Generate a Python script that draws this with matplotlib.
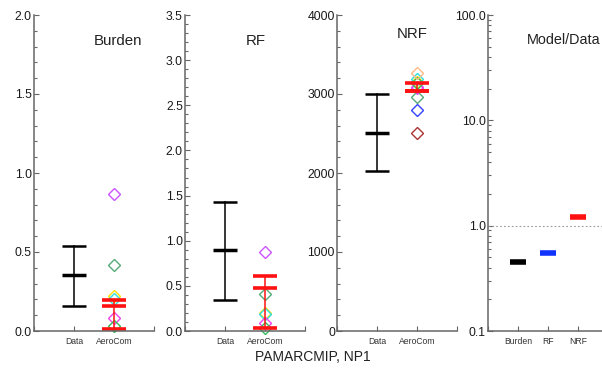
import numpy as np
import matplotlib
matplotlib.use('Agg')
import matplotlib.pyplot as plt
from matplotlib.ticker import FixedLocator, MultipleLocator, LogLocator, NullFormatter

plt.rcParams['font.family'] = ['Liberation Sans', 'DejaVu Sans']

# panel names and y ranges
panels = ['Burden', 'RF', 'NRF']
ymax = [2.0, 3.5, 4000]
ymajor = [0.5, 0.5, 1000]
yminor = [0.1, 0.1, 200]

# observations: high, mean, low
data_hi = [0.535, 1.43, 3005]
data_mean = [0.352, 0.897, 2505]
data_lo = [0.158, 0.34, 2020]

# AeroCom ensemble: high, mean, low
aero_hi = [0.195, 0.61, 3135]
aero_mean = [0.158, 0.48, 3040]
aero_lo = [0.013, 0.037, 3040]

# individual models (burden, rf, nrf)
model_colors = ['#cc55ff', '#55aa77', '#ffe000', '#33dddd', '#ee44ee', '#33bb55',
                '#ffbb88', '#3344ff', '#aa3333']
model_burden = [0.87, 0.42, 0.22, 0.20, 0.08, 0.03, np.nan, np.nan, np.nan]
model_rf = [0.875, 0.41, 0.20, 0.19, 0.085, 0.03, np.nan, np.nan, np.nan]
model_nrf = [3075, 2965, 3150, 3185, 3090, 3140, 3270, 2800, 2510]
models = [model_burden, model_rf, model_nrf]

# model / data ratios
ratio_names = ['Burden', 'RF', 'NRF']
ratio_vals = [0.455, 0.547, 1.22]
ratio_colors = ['black', '#1133ff', '#ff1111']

W, H = 602, 371
fig = plt.figure(figsize=(W / 100, H / 100), dpi=100)
axcol = '#666666'


def make_ax(x0):
    ax = fig.add_axes([x0 / W, (H - 331) / H, 120 / W, 316 / H])
    ax.spines['top'].set_visible(False)
    ax.spines['right'].set_visible(False)
    for s in ['left', 'bottom']:
        ax.spines[s].set_color(axcol)
        ax.spines[s].set_linewidth(1.1)
    ax.tick_params(which='both', direction='in', color=axcol, width=0.8)
    ax.tick_params(which='major', length=3.5)
    ax.tick_params(which='minor', length=1.8)
    ax.tick_params(axis='y', labelsize=8.8, pad=1.5, labelcolor='#1a1a1a')
    ax.tick_params(axis='x', labelsize=6.2, pad=4, labelcolor='#333333')
    return ax


lefts = [34, 185, 337]
title_pos = [(0.70, 0.918), (0.59, 0.918), (0.625, 0.94)]
for i in range(3):
    ax = make_ax(lefts[i])
    ax.set_xlim(0, 3)
    ax.set_ylim(0, ymax[i])
    ax.xaxis.set_major_locator(FixedLocator([0, 1, 2, 3]))
    ax.set_xticklabels(['', 'Data', 'AeroCom', ''])
    ax.yaxis.set_major_locator(MultipleLocator(ymajor[i]))
    ax.yaxis.set_minor_locator(MultipleLocator(yminor[i]))
    if i < 2:
        ax.yaxis.set_major_formatter(plt.FormatStrFormatter('%.1f'))
    else:
        ax.yaxis.set_major_formatter(plt.FormatStrFormatter('%d'))

    # observations
    ax.plot([1, 1], [data_lo[i], data_hi[i]], color='black', lw=1.1)
    ax.hlines([data_lo[i], data_hi[i]], 0.7, 1.3, color='black', lw=1.8)
    ax.hlines(data_mean[i], 0.7, 1.3, color='black', lw=2.5)

    # models
    for c, v in zip(model_colors, models[i]):
        if not np.isnan(v):
            ax.plot(2, v, 'D', mfc='none', mec=c, ms=6.5, mew=1.0, clip_on=False)

    # ensemble
    ax.plot([2, 2], [aero_lo[i], aero_hi[i]], color='#ff1111', lw=1.1, clip_on=False)
    ax.hlines([aero_lo[i], aero_mean[i], aero_hi[i]], 1.7, 2.3, color='#ff1111', lw=2.6,
              clip_on=False)

    ax.text(title_pos[i][0], title_pos[i][1], panels[i], transform=ax.transAxes,
            ha='center', va='center', fontsize=10.8, color='#222222')

# ratio panel
ax = make_ax(488)
ax.set_yscale('log')
ax.set_xlim(0, 4)
ax.set_ylim(0.1, 100)
ax.xaxis.set_major_locator(FixedLocator([0, 1, 2, 3]))
ax.set_xticklabels([''] + ratio_names)
ax.yaxis.set_major_locator(FixedLocator([0.1, 1, 10, 100]))
ax.set_yticklabels(['0.1', '1.0', '10.0', '100.0'])
ax.yaxis.set_minor_locator(LogLocator(base=10, subs=np.arange(2, 10)))
ax.yaxis.set_minor_formatter(NullFormatter())
ax.axhline(1.0, color='#999999', lw=0.8, ls=(0, (1.5, 2)))
for k in range(3):
    ax.hlines(ratio_vals[k], k + 1 - 0.28, k + 1 + 0.28, color=ratio_colors[k], lw=4)
ax.text(0.32, 0.92, 'Model/Data', transform=ax.transAxes, ha='left', va='center',
        fontsize=10.4, color='#222222')

fig.text(313 / W, 1 - 357 / H, 'PAMARCMIP, NP1', ha='center', va='center',
         fontsize=10, color='#222222')

fig.savefig('out.png', dpi=100)
